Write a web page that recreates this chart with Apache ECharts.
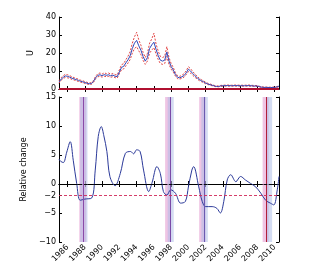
<!DOCTYPE html>
<html><head><meta charset="utf-8">
<script src="https://cdn.jsdelivr.net/npm/echarts@6/dist/echarts.min.js"></script>
<style>html,body{margin:0;padding:0;background:#fff}#c{width:317px;height:267px}</style>
</head><body><div id="c"></div>
<script>
const uYears = [1985.0,1985.25,1985.5,1985.75,1986.0,1986.25,1986.5,1986.75,1987.0,1987.25,1987.5,1987.75,1988.0,1988.25,1988.5,1988.75,1989.0,1989.25,1989.5,1989.75,1990.0,1990.25,1990.5,1990.75,1991.0,1991.25,1991.5,1991.75,1992.0,1992.25,1992.5,1992.75,1993.0,1993.25,1993.5,1993.75,1994.0,1994.25,1994.5,1994.75,1995.0,1995.25,1995.5,1995.75,1996.0,1996.25,1996.5,1996.75,1997.0,1997.25,1997.5,1997.75,1998.0,1998.25,1998.5,1998.75,1999.0,1999.25,1999.5,1999.75,2000.0,2000.25,2000.5,2000.75,2001.0,2001.25,2001.5,2001.75,2002.0,2002.25,2002.5,2002.75,2003.0,2003.25,2003.5,2003.75,2004.0,2004.5,2005.0,2005.5,2006.0,2006.5,2007.0,2007.5,2008.0,2008.25,2008.5,2008.75,2009.0,2009.5,2010.0,2010.25,2010.5];
const uMid = [3.8,5.5,6.5,7.3,7.0,6.6,6.0,5.6,5.2,4.8,4.3,4.0,3.6,3.2,2.9,3.0,4.2,6.3,7.6,7.9,7.4,8.0,7.6,7.9,7.3,7.7,7.1,6.9,9.5,12.0,12.6,14.5,16.2,18.5,22.5,25.5,27.0,24.0,21.5,18.0,15.5,17.5,22.5,24.5,26.0,22.0,18.5,16.0,15.5,16.0,20.5,15.5,12.5,10.5,8.0,6.5,6.2,6.8,7.5,9.0,11.0,10.0,8.6,7.4,6.3,5.3,4.6,4.0,3.3,2.8,2.4,2.1,1.7,1.4,1.4,1.7,1.8,1.9,1.8,1.9,1.8,1.8,1.9,1.7,1.6,1.3,1.0,0.9,0.9,0.8,0.9,1.1,1.6];
const uUpper = [4.5,6.3,7.4,8.2,7.9,7.4,6.8,6.3,5.9,5.4,4.9,4.6,4.1,3.7,3.4,3.5,4.8,7.1,8.5,8.9,8.3,9.0,8.5,8.9,8.2,8.6,8.0,7.8,10.7,13.5,14.1,16.3,18.2,20.8,25.5,29.0,31.5,27.2,24.3,20.3,17.5,19.8,25.5,27.8,31.0,25.0,21.0,18.1,17.5,18.1,23.5,17.5,14.1,11.9,9.0,7.3,7.0,7.7,8.5,10.2,12.4,11.3,9.7,8.4,7.1,6.0,5.2,4.5,3.8,3.2,2.8,2.4,2.0,1.7,1.7,2.0,2.1,2.2,2.1,2.2,2.1,2.1,2.2,2.0,1.9,1.5,1.2,1.1,1.1,1.0,1.1,1.3,1.9];
const uLower = [3.2,4.9,5.8,6.5,6.2,5.9,5.3,5.0,4.6,4.2,3.8,3.5,3.1,2.8,2.5,2.6,3.7,5.6,6.8,7.0,6.6,7.1,6.8,7.0,6.5,6.9,6.3,6.1,8.5,10.7,11.2,12.9,14.4,16.4,19.9,22.5,23.5,21.2,19.0,15.9,13.7,15.5,19.9,21.6,23.0,19.5,16.4,14.1,13.7,14.1,18.1,13.7,11.0,9.3,7.1,5.7,5.5,6.0,6.6,8.0,9.7,8.8,7.6,6.5,5.6,4.7,4.1,3.5,2.9,2.5,2.1,1.8,1.5,1.2,1.2,1.5,1.6,1.6,1.6,1.6,1.6,1.6,1.6,1.5,1.4,1.1,0.8,0.7,0.7,0.6,0.7,0.9,1.3];

const rcYears = [1985.0,1985.2,1985.5,1985.9,1986.3,1986.65,1987.05,1987.45,1988.0,1988.8,1989.2,1989.55,1989.9,1990.2,1990.55,1990.9,1991.5,1992.1,1992.7,1993.3,1993.65,1994.0,1994.4,1994.8,1995.4,1995.8,1996.35,1996.75,1997.1,1997.5,1997.95,1998.5,1999.1,1999.65,2000.0,2000.4,2000.6,2001.2,2001.6,2002.0,2002.75,2003.3,2003.7,2004.1,2004.5,2004.9,2005.5,2006.05,2006.6,2007.2,2007.8,2008.4,2008.95,2009.5,2009.9,2010.3,2010.5];
const rcValues = [4.3,3.9,3.7,5.5,7.3,4.1,0.1,-2.8,-2.6,-2.4,2.4,8.2,9.9,8.3,5.6,1.3,-0.3,1.8,5.3,5.6,5.2,5.9,5.6,2.4,-1.3,0.3,3.0,1.8,-1.3,-1.9,-1.0,-1.6,-3.3,-3.0,-0.5,2.4,3.0,-0.5,-3.0,-3.9,-3.9,-4.2,-5.0,-3.0,0.7,1.6,0.4,1.3,0.7,0.1,-0.5,-1.6,-2.8,-3.3,-3.6,-1.0,1.3];

const pinkBands = [[1987.35,1988.15],[1997.3,1998.0],[2001.25,2002.0],[2008.6,2009.3]];
const blueBands = [[1987.45,1988.3],[1997.6,1998.3],[2001.5,2002.25],[2009.0,2009.7]];
const eventLines = [1987.85,1997.85,2001.8,2009.05];
const eventColors = ['#8a4aa8','#7a4aa8','#6a5ab0','#b0203a'];

const yearTicks = [1986,1988,1990,1992,1994,1996,1998,2000,2002,2004,2006,2008,2010];
const uTicks = [0,10,20,30,40];
const rcTicks = [-10,-5,-2,0,5,10,15];

const pair = (xs, ys) => xs.map((x,i)=>[x, ys[i]]);
const font = {fontFamily:'DejaVu Sans', fontSize:8, color:'#000'};

function xAx(grid, pos, labels){
  return {type:'value', gridIndex:grid, position:pos, min:1985, max:2010.5,
    axisLine:{show:true, lineStyle:{color:'#000', width:1}},
    splitLine:{show:false},
    axisTick:{show:true, inside:true, length:3, customValues:yearTicks, lineStyle:{color:'#000'}},
    axisLabel:{show:labels, customValues:yearTicks, rotate:45, margin:4, ...font, formatter:v=>String(v)}};
}
function yAx(grid, pos, min, max, ticks, name, gap, labels){
  return {type:'value', gridIndex:grid, position:pos, min:min, max:max,
    name:name, nameLocation:'middle', nameGap:gap, nameRotate:90,
    nameTextStyle:{...font, fontSize:8},
    axisLine:{show:true, lineStyle:{color:'#000', width:1}},
    splitLine:{show:false},
    axisTick:{show:true, inside:true, length:3, customValues:ticks, lineStyle:{color:'#000'}},
    axisLabel:{show:labels, customValues:ticks, margin:3, ...font,
      formatter:v=> v<0 ? '\u2212'+Math.abs(v) : String(v)}};
}

const chart = echarts.init(document.getElementById('c'), null, {renderer:'canvas'});
chart.setOption({
  animation:false,
  backgroundColor:'#fff',
  grid:[
    {left:59, top:17, width:220, height:72},
    {left:59, top:97, width:220, height:145}
  ],
  xAxis:[xAx(0,'bottom',false), xAx(0,'top',false), xAx(1,'bottom',true), xAx(1,'top',false)],
  yAxis:[
    yAx(0,'left',0,40,uTicks,'U',20,true),
    yAx(0,'right',0,40,uTicks,'',0,false),
    yAx(1,'left',-10,15,rcTicks,'Relative change',16,true),
    yAx(1,'right',-10,15,rcTicks,'',0,false)
  ],
  series:[
    {type:'line', xAxisIndex:0, yAxisIndex:0, data:pair(uYears,uUpper), showSymbol:false,
      lineStyle:{color:'#e03030', width:0.9, type:[2,1.5]}},
    {type:'line', xAxisIndex:0, yAxisIndex:0, data:pair(uYears,uLower), showSymbol:false,
      lineStyle:{color:'#e03030', width:0.9, type:[2,1.5]}},
    {type:'line', xAxisIndex:0, yAxisIndex:0, data:pair(uYears,uMid), showSymbol:false,
      lineStyle:{color:'#3048b8', width:1},
      markLine:{silent:true, symbol:'none', label:{show:false},
        data:[{yAxis:0}], lineStyle:{color:'#b01030', width:1.8, type:'solid'}}},
    {type:'line', xAxisIndex:2, yAxisIndex:2, data:[], 
      markArea:{silent:true, itemStyle:{color:'rgba(225,150,205,0.55)'},
        data:pinkBands.map(b=>[{xAxis:b[0]},{xAxis:b[1]}])}},
    {type:'line', xAxisIndex:2, yAxisIndex:2, data:[],
      markArea:{silent:true, itemStyle:{color:'rgba(170,185,230,0.5)'},
        data:blueBands.map(b=>[{xAxis:b[0]},{xAxis:b[1]}])}},
    {type:'line', xAxisIndex:2, yAxisIndex:2, data:[],
      markLine:{silent:true, symbol:'none', label:{show:false},
        data:eventLines.map((x,i)=>({xAxis:x, lineStyle:{color:eventColors[i], width:1, type:'solid'}}))}},
    {type:'line', xAxisIndex:2, yAxisIndex:2, data:pair(rcYears,rcValues), showSymbol:false, smooth:0.35,
      lineStyle:{color:'#2c3a9a', width:1},
      markLine:{silent:true, symbol:'none', label:{show:false},
        data:[{yAxis:0, lineStyle:{color:'#000', width:0.9, type:[3,2]}},
              {yAxis:-2, lineStyle:{color:'#d02858', width:0.9, type:[3,2]}}]}}
  ]
});
</script>
</body></html>
